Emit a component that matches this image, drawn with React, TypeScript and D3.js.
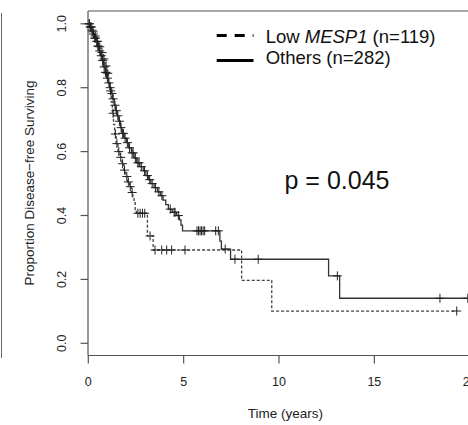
import React from "react";
import * as d3 from "d3";

// ---- data ----
const xTicks = [0, 5, 10, 15, 20];
const yTicks = [0.0, 0.2, 0.4, 0.6, 0.8, 1.0];

// Others (n=282): step times and survival after each drop
const othersTimes = [0.08, 0.16, 0.24, 0.32, 0.40, 0.48, 0.56, 0.64, 0.72, 0.80, 0.88, 0.96, 1.04, 1.12, 1.20, 1.28, 1.36, 1.44, 1.52, 1.60, 1.68, 1.76, 1.88, 2.00, 2.12, 2.26, 2.40, 2.54, 2.70, 2.88, 3.02, 3.16, 3.28, 3.45, 3.62, 3.78, 3.92, 4.06, 4.20, 4.40, 4.62, 4.78, 4.86, 4.94, 6.90, 6.98, 7.46, 12.60, 13.18];
const othersSurv = [0.99, 0.98, 0.968, 0.955, 0.945, 0.93, 0.915, 0.9, 0.885, 0.865, 0.848, 0.83, 0.815, 0.8, 0.782, 0.765, 0.745, 0.728, 0.712, 0.695, 0.675, 0.657, 0.642, 0.628, 0.612, 0.596, 0.58, 0.565, 0.553, 0.54, 0.525, 0.512, 0.5, 0.487, 0.474, 0.462, 0.448, 0.434, 0.42, 0.41, 0.4, 0.386, 0.37, 0.352, 0.32, 0.295, 0.263, 0.211, 0.141];
const othersEnd = 19.9;
const othersCensor = [0.04, 0.1, 0.13, 0.2, 0.27, 0.34, 0.37, 0.44, 0.5, 0.53, 0.6, 0.68, 0.75, 0.83, 0.9, 0.93, 1.0, 1.08, 1.15, 1.24, 1.3, 1.4, 1.47, 1.55, 1.63, 1.72, 1.8, 1.84, 1.93, 2.05, 2.16, 2.3, 2.35, 2.47, 2.6, 2.66, 2.78, 2.95, 3.1, 3.22, 3.35, 3.52, 3.7, 3.86, 4.3, 4.5, 4.55, 4.72, 5.7, 5.78, 5.86, 5.94, 6.02, 6.1, 6.68, 6.82, 7.18, 7.69, 8.91, 13.06, 18.44, 19.9];

// Low MESP1 (n=119)
const lowTimes = [0.10, 0.20, 0.30, 0.42, 0.54, 0.66, 0.78, 0.88, 0.98, 1.06, 1.14, 1.20, 1.26, 1.32, 1.38, 1.46, 1.56, 1.66, 1.76, 1.86, 1.96, 2.06, 2.16, 2.26, 2.34, 2.40, 2.46, 2.52, 3.10, 3.40, 8.04, 9.62];
const lowSurv = [0.99, 0.975, 0.962, 0.945, 0.928, 0.91, 0.89, 0.868, 0.845, 0.82, 0.79, 0.755, 0.72, 0.685, 0.655, 0.625, 0.6, 0.582, 0.562, 0.542, 0.522, 0.505, 0.49, 0.472, 0.458, 0.44, 0.418, 0.407, 0.336, 0.292, 0.197, 0.101];
const lowEnd = 19.32;
const lowCensor = [0.06, 0.15, 0.25, 0.36, 0.48, 0.6, 0.72, 0.82, 0.93, 1.02, 1.17, 1.3, 1.42, 1.5, 1.6, 1.7, 1.8, 1.9, 2.02, 2.1, 2.2, 2.3, 2.6, 2.72, 2.84, 2.96, 3.24, 3.5, 3.85, 4.11, 4.37, 5.07, 19.32];

const FONT = "'Liberation Sans', Arial, Helvetica, sans-serif";

function stepPoints(times: number[], surv: number[], end: number): [number, number][] {
  const pts: [number, number][] = [[0, 1]];
  times.forEach((t, i) => pts.push([t, surv[i]]));
  pts.push([end, surv[surv.length - 1]]);
  return pts;
}

function survAt(times: number[], surv: number[], t: number): number {
  let s = 1;
  for (let i = 0; i < times.length; i++) {
    if (times[i] <= t) s = surv[i];
    else break;
  }
  return s;
}

export default function App() {
  const x = d3.scaleLinear().domain([0, 20]).range([88.3, 469.7]);
  const y = d3.scaleLinear().domain([0, 1]).range([343.3, 23.8]);
  const line = d3
    .line<[number, number]>()
    .x((d) => x(d[0]))
    .y((d) => y(d[1]))
    .curve(d3.curveStepAfter);

  const othersPath = line(stepPoints(othersTimes, othersSurv, othersEnd)) || "";
  const lowPath = line(stepPoints(lowTimes, lowSurv, lowEnd)) || "";

  const boxLeft = 88;
  const boxTop = 11;
  const boxBottom = 355.5;
  const axisColor = "#555";
  const textColor = "#222";

  const cross = (cx: number, cy: number, key: string) => (
    <g key={key} stroke="#222" strokeWidth={1}>
      <line x1={cx - 4.5} x2={cx + 4.5} y1={cy} y2={cy} />
      <line x1={cx} x2={cx} y1={cy - 4.5} y2={cy + 4.5} />
    </g>
  );

  return (
    <svg
      width={468}
      height={425}
      style={{ position: "absolute", left: 0, top: 0, background: "#fff" }}
      fontFamily={FONT}
    >
      <rect x={0} y={0} width={468} height={425} fill="#fff" />
      {/* outer panel edge */}
      <line x1={1.5} x2={1.5} y1={13} y2={358} stroke="#666" strokeWidth={1} />

      {/* plot box */}
      <line x1={boxLeft} x2={468} y1={boxTop} y2={boxTop} stroke={axisColor} strokeWidth={1.2} />
      <line x1={boxLeft} x2={boxLeft} y1={boxTop} y2={boxBottom} stroke={axisColor} strokeWidth={1.2} />
      <line x1={boxLeft} x2={468} y1={boxBottom} y2={boxBottom} stroke={axisColor} strokeWidth={1.2} />

      {/* y axis */}
      {yTicks.map((t) => (
        <g key={"y" + t}>
          <line x1={80.5} x2={boxLeft} y1={y(t)} y2={y(t)} stroke={axisColor} strokeWidth={1.2} />
          <text
            transform={`translate(65.5,${y(t)}) rotate(-90)`}
            textAnchor="middle"
            fontSize={12.5}
            fill={textColor}
          >
            {t.toFixed(1)}
          </text>
        </g>
      ))}
      <text
        transform={`translate(33.5,183) rotate(-90)`}
        textAnchor="middle"
        fontSize={13.5}
        fill={textColor}
      >
        Proportion Disease−free Surviving
      </text>

      {/* x axis */}
      {xTicks.map((t) => (
        <g key={"x" + t}>
          <line x1={x(t)} x2={x(t)} y1={boxBottom} y2={363.5} stroke={axisColor} strokeWidth={1.2} />
          <text x={x(t)} y={386} textAnchor="middle" fontSize={12.5} fill={textColor}>
            {t}
          </text>
        </g>
      ))}
      <text x={285.5} y={417.5} textAnchor="middle" fontSize={13.5} fill={textColor}>
        Time (years)
      </text>

      {/* curves */}
      <path d={othersPath} fill="none" stroke="#333" strokeWidth={1.3} />
      <path d={lowPath} fill="none" stroke="#444" strokeWidth={1.3} strokeDasharray="3,2" />
      {othersCensor.map((c, i) => cross(x(c), y(survAt(othersTimes, othersSurv, c)), "oc" + i))}
      {lowCensor.map((c, i) => cross(x(c), y(survAt(lowTimes, lowSurv, c)), "lc" + i))}

      {/* legend */}
      <line x1={216.7} x2={253.5} y1={35.5} y2={35.5} stroke="#000" strokeWidth={3} strokeDasharray="10,8" />
      <line x1={216.7} x2={253.5} y1={60.5} y2={60.5} stroke="#000" strokeWidth={3} />
      <text x={265.7} y={43.3} fontSize={18.5} fill="#111">
        Low <tspan fontStyle="italic">MESP1</tspan> (n=119)
      </text>
      <text x={265.7} y={64.3} fontSize={18.5} fill="#111">
        Others (n=282)
      </text>

      {/* p value */}
      <text x={284.5} y={188.5} fontSize={25} fill="#111">
        p = 0.045
      </text>
    </svg>
  );
}
